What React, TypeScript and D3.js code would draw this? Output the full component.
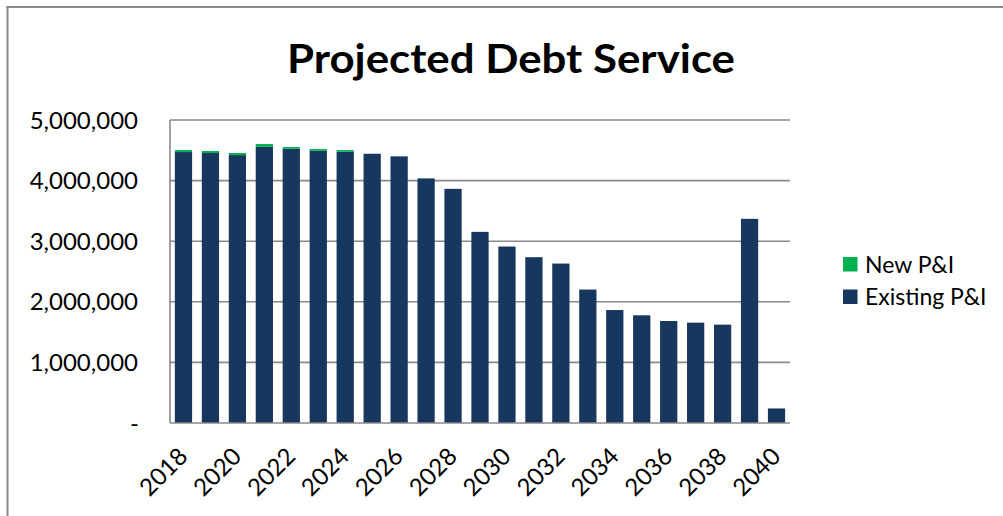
import React from "react";
import * as d3 from "d3";

const years = ["2018","2019","2020","2021","2022","2023","2024","2025","2026","2027","2028","2029","2030","2031","2032","2033","2034","2035","2036","2037","2038","2039","2040"];
const existingPI = [4471000, 4455000, 4421000, 4559000, 4526000, 4493000, 4476000, 4443000, 4400000, 4036000, 3864000, 3154000, 2912000, 2736000, 2631000, 2202000, 1864000, 1777000, 1683000, 1656000, 1623000, 3369000, 240000];
const newPI = [33000, 33000, 34000, 44000, 28000, 28000, 28000, 0, 0, 0, 0, 0, 0, 0, 0, 0, 0, 0, 0, 0, 0, 0, 0];
const yTicks = [0, 1000000, 2000000, 3000000, 4000000, 5000000];
const xTickLabels = ["2018","2020","2022","2024","2026","2028","2030","2032","2034","2036","2038","2040"];
const seriesNames = ["New P&I", "Existing P&I"];
const colors = { existing: "#17375E", newPI: "#00B050" };

export default function App() {
  const W = 1003, H = 516;
  const left = 170, right = 790, top = 120, bottom = 423;
  const x = d3.scaleBand<string>().domain(years).range([left, right]).paddingInner(0.36).paddingOuter(0.18);
  const y = d3.scaleLinear().domain([0, 5000000]).range([bottom, top]);
  const fmt = d3.format(",");
  const font = "Lato, 'Open Sans', sans-serif";
  const grid = "#8a8a8a";

  return (
    <svg width={W} height={H} style={{ position: "absolute", left: 0, top: 0, background: "#fff" }} fontFamily={font}>
      <rect x={0} y={0} width={W} height={H} fill="#fff" />
      {/* outer chart border */}
      <line x1={6.5} x2={W} y1={7} y2={7} stroke={grid} strokeWidth={2} />
      <line x1={7.5} x2={7.5} y1={6} y2={H} stroke={grid} strokeWidth={2} />

      <text x={511} y={73} textAnchor="middle" fontWeight="bold" fontSize={40} textLength={448} lengthAdjust="spacingAndGlyphs" fill="#000">Projected Debt Service</text>

      {yTicks.map((t) => (
        <g key={t}>
          {t > 0 && <line x1={left} x2={right} y1={y(t)} y2={y(t)} stroke={grid} strokeWidth={1.6} />}
          <text x={t === 0 ? 139 : 138} y={y(t)} dy="0.36em" textAnchor="end" fontSize={24} fill="#000">{t === 0 ? "-" : fmt(t)}</text>
        </g>
      ))}

      {years.map((yr, i) => {
        const bx = x(yr)!;
        const bw = x.bandwidth();
        const e = existingPI[i];
        const n = newPI[i];
        return (
          <g key={yr}>
            <rect x={bx} y={y(e)} width={bw} height={y(0) - y(e)} fill={colors.existing} />
            {n > 0 && <rect x={bx} y={y(e + n)} width={bw} height={y(e) - y(e + n)} fill={colors.newPI} />}
          </g>
        );
      })}

      <line x1={left} x2={left} y1={top} y2={bottom} stroke={grid} strokeWidth={1.6} />
      <line x1={left} x2={right} y1={bottom} y2={bottom} stroke={grid} strokeWidth={1.6} />

      {xTickLabels.map((lbl) => {
        const cx = x(lbl)! + x.bandwidth() / 2;
        return (
          <text key={lbl} transform={`translate(${cx + 5.5},458) rotate(-45)`} textAnchor="end" fontSize={24} fill="#000">{lbl}</text>
        );
      })}

      <rect x={843} y={257} width={14.5} height={14.5} fill={colors.newPI} />
      <text x={865} y={272.5} fontSize={23} fill="#000">{seriesNames[0]}</text>
      <rect x={843} y={289.5} width={14.5} height={14.5} fill={colors.existing} />
      <text x={865} y={305} fontSize={23} fill="#000">{seriesNames[1]}</text>
    </svg>
  );
}
